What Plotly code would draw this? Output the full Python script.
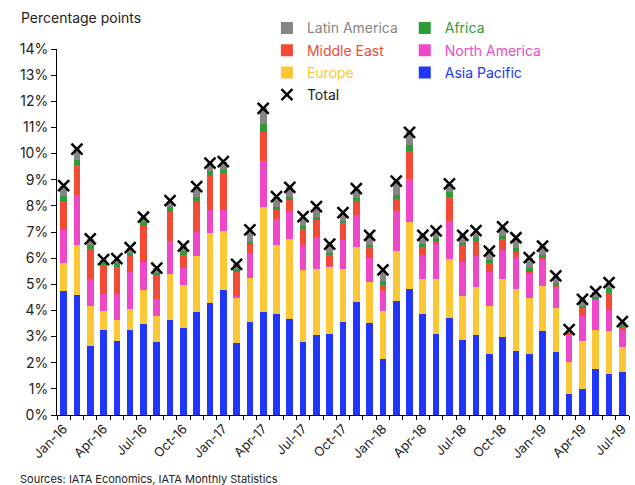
import pandas as pd
import plotly.graph_objects as go

months = list(pd.date_range("2016-01-01", periods=43, freq="MS").strftime("%b-%y"))

asia_pacific = [4.73, 4.60, 2.63, 3.27, 2.84, 3.24, 3.47, 2.78, 3.64, 3.32, 3.95, 4.29,
                4.78, 2.74, 3.57, 3.95, 3.88, 3.66, 2.81, 3.05, 3.11, 3.57, 4.34, 3.53,
                2.14, 4.37, 4.83, 3.85, 3.09, 3.70, 2.88, 3.05, 2.33, 2.97, 2.46, 2.33,
                3.21, 2.41, 0.80, 0.98, 1.77, 1.58, 1.64]
europe = [1.09, 1.92, 1.55, 0.70, 0.81, 0.80, 1.32, 1.00, 1.76, 1.66, 2.14, 2.67,
          2.25, 1.77, 1.68, 4.02, 2.62, 3.07, 2.72, 2.53, 2.56, 2.03, 2.07, 1.57,
          1.84, 1.92, 2.57, 1.35, 2.11, 2.27, 1.68, 1.86, 1.85, 2.23, 2.36, 2.13,
          1.72, 1.70, 1.23, 1.85, 1.48, 1.63, 0.97]
north_america = [1.26, 1.91, 1.02, 0.67, 0.99, 1.42, 1.07, 0.66, 1.25, 0.64, 0.92, 0.87,
                 0.81, 0.04, 0.95, 1.75, 0.98, 1.09, 0.99, 1.22, 0.03, 1.08, 1.23, 0.89,
                 0.75, 1.51, 1.63, 0.93, 1.37, 1.44, 1.28, 1.16, 1.29, 1.11, 1.21, 0.93,
                 1.04, 0.80, 1.06, 0.96, 1.15, 0.81, 0.64]
middle_east = [1.12, 1.13, 1.15, 1.11, 1.02, 0.64, 1.36, 0.93, 1.13, 0.50, 1.17, 1.30,
               1.40, 0.93, 0.33, 1.09, 0.36, 0.39, 0.61, 0.65, 0.43, 0.69, 0.53, 0.45,
               0.24, 0.47, 1.07, 0.31, 0.06, 0.94, 0.65, 0.60, 0.34, 0.42, 0.19, 0.09,
               0.05, 0.04, 0.03, 0.33, 0.04, 0.66, 0.10]
africa = [0.19, 0.21, 0.17, 0.10, 0.15, 0.09, 0.18, 0.06, 0.19, 0.14, 0.15, 0.19,
          0.13, 0.09, 0.09, 0.31, 0.12, 0.12, 0.11, 0.11, 0.08, 0.06, 0.12, 0.08,
          0.17, 0.16, 0.21, 0.10, 0.13, 0.19, 0.10, 0.15, 0.11, 0.12, 0.18, 0.16,
          0.09, 0.09, 0.02, 0.06, 0.06, 0.19, 0.08]
latin_america = [0.38, 0.40, 0.22, 0.09, 0.17, 0.21, 0.17, 0.19, 0.23, 0.20, 0.41, 0.31,
                 0.32, 0.19, 0.46, 0.61, 0.39, 0.38, 0.35, 0.41, 0.33, 0.31, 0.37, 0.35,
                 0.41, 0.52, 0.50, 0.33, 0.28, 0.30, 0.28, 0.23, 0.35, 0.35, 0.38, 0.38,
                 0.35, 0.28, 0.13, 0.24, 0.22, 0.19, 0.14]

series = [
    ("Asia Pacific", asia_pacific, "#2036F8", 6),
    ("Europe", europe, "#FBC734", 3),
    ("North America", north_america, "#EE48C9", 5),
    ("Middle East", middle_east, "#F24A35", 2),
    ("Africa", africa, "#2C9B38", 4),
    ("Latin America", latin_america, "#858585", 1),
]
col2 = {"Africa", "North America", "Asia Pacific"}

total = [round(sum(v), 2) for v in zip(*[s[1] for s in series])]

x = list(range(len(months)))
FONT = "Inter, Roboto, Arial, sans-serif"

fig = go.Figure()
for name, vals, color, rank in series:
    fig.add_trace(go.Bar(
        x=x, y=vals, name=f"<span style='color:{color}'>{name}</span>",
        marker=dict(color=color, line=dict(width=0)),
        legend="legend2" if name in col2 else "legend",
        legendgroup=name, legendrank=rank,
    ))
fig.add_trace(go.Scatter(
    x=x, y=total, mode="markers", name="Total",
    marker=dict(symbol="x-thin", size=11, color="black",
                line=dict(width=2.5, color="black")),
    legend="legend", legendgroup="Total", legendrank=7,
))

legend_common = dict(
    orientation="v", bgcolor="rgba(0,0,0,0)", borderwidth=0,
    font=dict(family=FONT, size=14, color="#222"),
    yanchor="top", xanchor="left", traceorder="grouped",
    itemwidth=30, tracegroupgap=1,
)

fig.update_layout(
    width=635, height=485,
    margin=dict(l=57, r=6, t=49, b=70),
    paper_bgcolor="white", plot_bgcolor="white",
    barmode="stack", bargap=0.5,
    font=dict(family=FONT, size=14, color="#222"),
    showlegend=True,
    legend=dict(x=0.367, y=1.10, **legend_common),
    legend2=dict(x=0.608, y=1.10, **legend_common),
    xaxis=dict(
        range=[-0.5, len(months) - 0.5],
        tickmode="array", tickvals=x[::3], ticktext=months[::3],
        tickangle=-45, ticks="", showgrid=False, zeroline=False,
        showline=True, linecolor="black", linewidth=1,
        tickfont=dict(family=FONT, size=13, color="#222"),
        minor=dict(ticks="outside", tick0=-0.5, dtick=1, ticklen=4,
                   tickcolor="black", showgrid=False),
    ),
    yaxis=dict(
        range=[0, 14], dtick=1, ticksuffix="%", showgrid=False, zeroline=False,
        showline=True, linecolor="black", linewidth=1,
        ticks="outside", ticklen=5, tickcolor="black",
        tickfont=dict(family=FONT, size=14, color="#222"),
    ),
    annotations=[
        dict(text="Percentage points", xref="paper", yref="paper",
             x=-0.067, y=1.085, xanchor="left", yanchor="middle", showarrow=False,
             font=dict(family=FONT, size=14, color="#222")),
        dict(text="Sources: IATA Economics, IATA Monthly Statistics", xref="paper", yref="paper",
             x=-0.068, y=-0.150, xanchor="left", yanchor="top", showarrow=False,
             font=dict(family=FONT, size=11, color="#222")),
    ],
)

fig.write_html("out.html", config={"displayModeBar": False},
               post_script="document.body.style.margin='0';")
